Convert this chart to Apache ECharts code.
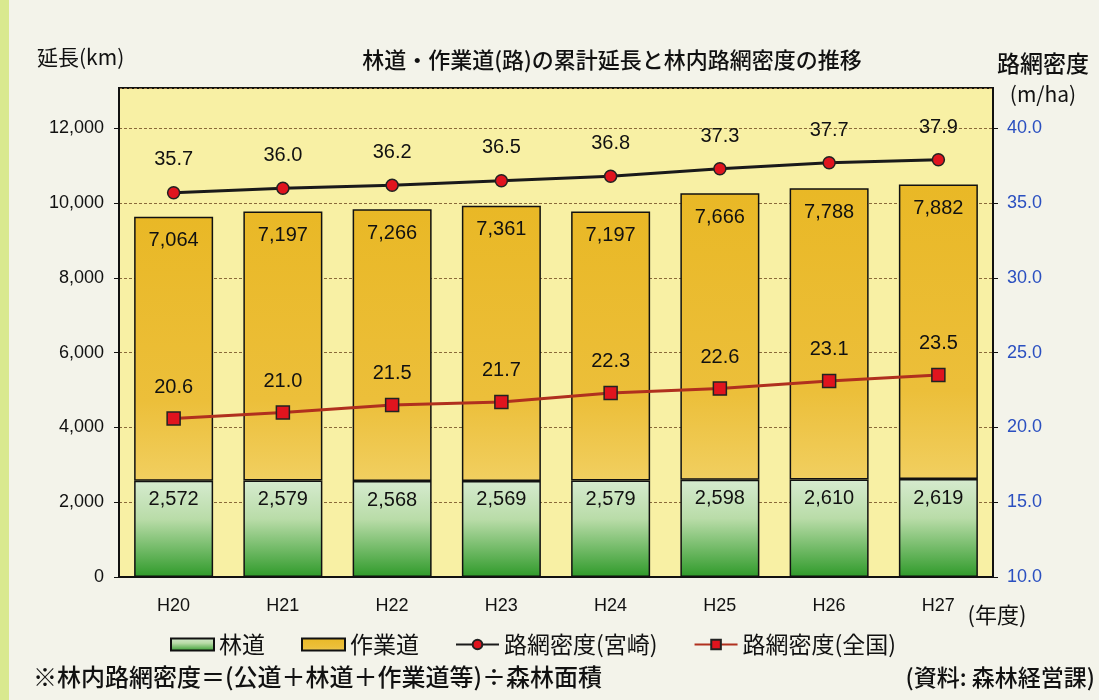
<!DOCTYPE html>
<html>
<head>
<meta charset="utf-8">
<script src="https://cdn.jsdelivr.net/npm/echarts@6/dist/echarts.min.js"></script>
<style>
  html, body { margin: 0; padding: 0; background: #f3f3ea; }
  #chart { width: 1099px; height: 700px; }
</style>
</head>
<body>
<div id="chart"></div>
<script>
// 年度
var years = ['H20', 'H21', 'H22', 'H23', 'H24', 'H25', 'H26', 'H27'];
// 林道 (km)
var rindo = [2572, 2579, 2568, 2569, 2579, 2598, 2610, 2619];
// 作業道 (km)
var sagyodo = [7064, 7197, 7266, 7361, 7197, 7666, 7788, 7882];
// 路網密度 (m/ha)
var densMiyazaki = [35.7, 36.0, 36.2, 36.5, 36.8, 37.3, 37.7, 37.9];
var densZenkoku = [20.6, 21.0, 21.5, 21.7, 22.3, 22.6, 23.1, 23.5];

var font = '"Noto Sans CJK JP", sans-serif';
var numFont = '"Liberation Sans", Arial, sans-serif';

var chart = echarts.init(document.getElementById('chart'));

chart.setOption({
  backgroundColor: '#f3f3ea',
  animation: false,
  grid: {
    left: 119, right: 106, top: 88, bottom: 123,
    show: true,
    backgroundColor: '#f8f0a4',
    borderColor: '#111',
    borderWidth: 2
  },
  graphic: [
    { type: 'rect', left: 0, top: 0, shape: { width: 9, height: 700 }, style: { fill: '#d9e98f' }, silent: true },
    { type: 'text', left: 37, top: 47, style: { text: '延長(km)', font: '21px ' + font, fill: '#111', verticalAlign: 'middle' } },
    { type: 'text', x: 612, y: 60, style: { text: '林道・作業道(路)の累計延長と林内路網密度の推移', font: '500 22px ' + font, fill: '#111', align: 'center', verticalAlign: 'middle' } },
    { type: 'text', x: 1043, y: 63, style: { text: '路網密度', font: '500 23px ' + font, fill: '#111', align: 'center', verticalAlign: 'middle' } },
    { type: 'text', x: 1043, y: 94, style: { text: '(m/ha)', font: '21px ' + font, fill: '#111', align: 'center', verticalAlign: 'middle' } },
    { type: 'text', x: 997, y: 615, style: { text: '(年度)', font: '22px ' + font, fill: '#111', align: 'center', verticalAlign: 'middle' } },
    { type: 'text', x: 33, y: 677, style: { text: '※林内路網密度＝(公道＋林道＋作業道等)÷森林面積', font: '500 24px ' + font, fill: '#111', verticalAlign: 'middle' } },
    { type: 'text', x: 1095, y: 677, style: { text: '(資料: 森林経営課)', font: '500 23px ' + font, fill: '#111', align: 'right', verticalAlign: 'middle' } }
  ],
  legend: {
    top: 628,
    left: 165,
    itemGap: 36,
    itemWidth: 43,
    itemHeight: 12,
    textStyle: { fontFamily: font, fontSize: 23, color: '#111' },
    data: [
      { name: '林道', icon: 'rect' },
      { name: '作業道', icon: 'rect' },
      { name: '路網密度(宮崎)' },
      { name: '路網密度(全国)' }
    ]
  },
  xAxis: {
    type: 'category',
    data: years,
    axisLine: { lineStyle: { color: '#111', width: 2 } },
    axisTick: { inside: true, length: 6, lineStyle: { color: '#111' } },
    axisLabel: { fontFamily: numFont, fontSize: 18, color: '#111', margin: 20 }
  },
  yAxis: [
    {
      type: 'value',
      min: 0, max: 13080, interval: 2000,
      axisLine: { show: true, lineStyle: { color: '#111', width: 2 } },
      axisTick: { show: true, length: 5, lineStyle: { color: '#111' } },
      axisLabel: {
        fontFamily: numFont, fontSize: 18, color: '#111', margin: 15,
        showMaxLabel: false,
        formatter: function (v) { return v.toLocaleString('en-US'); }
      },
      splitLine: { show: true, lineStyle: { color: '#8a6a3a', type: [3, 2], width: 1 } }
    },
    {
      type: 'value',
      min: 10, max: 42.7, interval: 5,
      axisLine: { show: true, lineStyle: { color: '#111', width: 2 } },
      axisTick: { show: true, length: 5, lineStyle: { color: '#111' } },
      axisLabel: {
        fontFamily: numFont, fontSize: 18, color: '#2a4fc0', margin: 14,
        showMaxLabel: false,
        formatter: function (v) { return v.toFixed(1); }
      },
      splitLine: { show: false }
    }
  ],
  series: [
    {
      name: '林道',
      type: 'bar',
      stack: 'total',
      barWidth: 79,
      data: rindo,
      itemStyle: {
        borderColor: '#111',
        borderWidth: 1.5,
        color: new echarts.graphic.LinearGradient(0, 0, 0, 1, [
          { offset: 0, color: '#d6ebcf' },
          { offset: 0.4, color: '#b9dca8' },
          { offset: 1, color: '#2f9a2a' }
        ])
      },
      label: {
        show: true, position: 'insideTop', distance: 9,
        fontFamily: numFont, fontSize: 20, color: '#111',
        formatter: function (p) { return p.value.toLocaleString('en-US'); }
      }
    },
    {
      name: '作業道',
      type: 'bar',
      stack: 'total',
      barWidth: 79,
      data: sagyodo,
      itemStyle: {
        borderColor: '#111',
        borderWidth: 1.5,
        color: new echarts.graphic.LinearGradient(0, 0, 0, 1, [
          { offset: 0, color: '#e9b826' },
          { offset: 0.7, color: '#ecbf3a' },
          { offset: 1, color: '#f1cf60' }
        ])
      },
      label: {
        show: true, position: 'insideTop', distance: 14,
        fontFamily: numFont, fontSize: 20, color: '#111',
        formatter: function (p) { return p.value.toLocaleString('en-US'); }
      }
    },
    {
      name: '路網密度(宮崎)',
      type: 'line',
      yAxisIndex: 1,
      data: densMiyazaki,
      symbol: 'circle',
      symbolSize: 12,
      lineStyle: { color: '#1a1a1a', width: 3 },
      itemStyle: { color: '#e0141e', borderColor: '#222', borderWidth: 1.5 },
      label: {
        show: true, position: 'top', distance: 16,
        fontFamily: numFont, fontSize: 20, color: '#111',
        formatter: function (p) { return p.value.toFixed(1); }
      },
      z: 5
    },
    {
      name: '路網密度(全国)',
      type: 'line',
      yAxisIndex: 1,
      data: densZenkoku,
      symbol: 'rect',
      symbolSize: 13,
      lineStyle: { color: '#b0301e', width: 3 },
      itemStyle: { color: '#e0141e', borderColor: '#222', borderWidth: 1.5 },
      label: {
        show: true, position: 'top', distance: 14,
        fontFamily: numFont, fontSize: 20, color: '#111',
        formatter: function (p) { return p.value.toFixed(1); }
      },
      z: 5
    }
  ]
});
</script>
</body>
</html>
